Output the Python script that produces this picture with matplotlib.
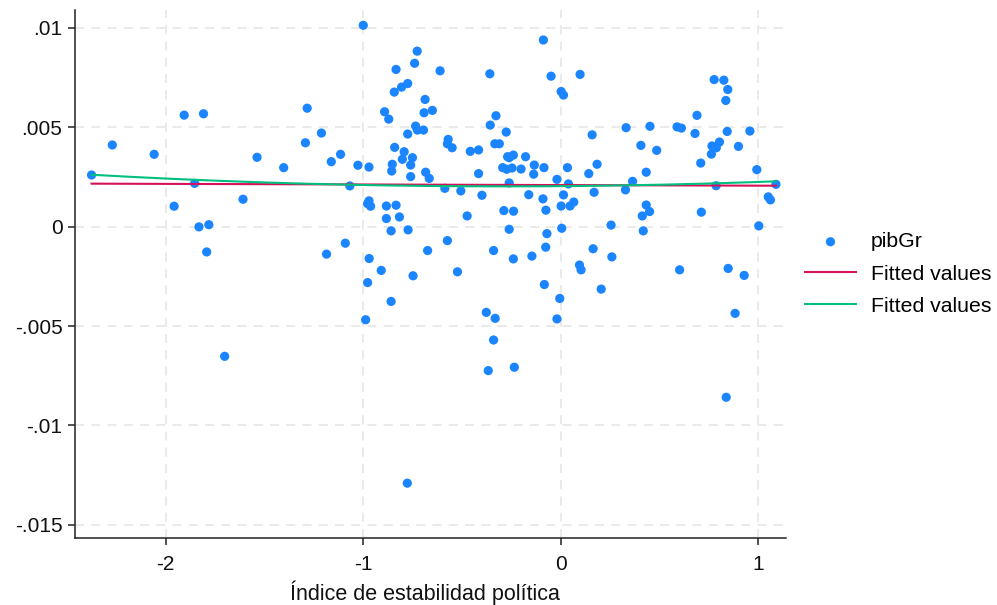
import numpy as np
import matplotlib
matplotlib.use("Agg")
import matplotlib.pyplot as plt

plt.rcParams['font.family'] = ['Liberation Sans', 'DejaVu Sans']

# Political stability index (x) and GDP growth (pibGr)
estab = [
    -2.376, -2.271, -2.059, -1.907, -1.809, -1.854, -1.958, -1.832, -1.782, -1.793,
    -1.538, -1.403, -1.609, -1.284, -1.293, -1.212, -1.186,
    -1.000, -1.162, -1.115, -1.027, -0.971, -1.068, -0.971, -0.963, -0.978, -1.091,
    -0.970, -0.909, -0.978, -0.748, -0.859, -0.988, -1.702, -0.777,
    -0.834, -0.843, -0.806, -0.775, -0.740, -0.727, -0.611, -0.687, -0.692, -0.650,
    -0.892, -0.871, -0.775, -0.735, -0.726, -0.695, -0.841, -0.793, -0.802, -0.751,
    -0.760, -0.853, -0.856, -0.760, -0.684, -0.666, -0.570, -0.574, -0.550, -0.458,
    -0.416, -0.359, -0.328, -0.357, -0.276, -0.334, -0.311, -0.269, -0.240, -0.261,
    -0.178, -0.294, -0.274, -0.247, -0.201, -0.134, -0.137, -0.088, -0.049, -0.085,
    -0.416, -0.261, -0.587, -0.506, -0.399, -0.162, -0.090, -0.075, -0.883, -0.834,
    -0.883, -0.817, -0.859, -0.773, -0.474, -0.288, -0.239, -0.261, -0.070, -0.076,
    -0.574, -0.674, -0.340, -0.146, -0.240, -0.523,
    0.095, 0.103, 0.602, 0.848, 0.929, -0.083, -0.005, 0.205, -0.377, -0.332,
    -0.340, -0.019, -0.367, -0.235, 0.883, 0.838,
    0.098, 0.002, 0.014, 0.159, 0.331, 0.452, 0.406, 0.486, 0.589, 0.611,
    0.690, 0.680, 0.777, 0.826, 0.846, 0.836, 0.843, 0.958, 0.804, 0.766,
    0.788, 0.763, 0.900, 0.709, 0.993, 1.090, 1.051, 1.062, 0.787, 0.712,
    1.003, 0.433, 0.433, 0.450, 0.413, 0.418, 0.364, 0.328, 0.255, 0.259,
    0.164, 0.142, 0.184, 0.169, 0.034, -0.019, 0.039, 0.014, 0.002, 0.047,
    0.066, 0.005,
]
pibGr = [
    0.00260, 0.00411, 0.00364, 0.00561, 0.00568, 0.00218, 0.00103, -0.00001, 0.00010, -0.00127,
    0.00349, 0.00297, 0.00138, 0.00596, 0.00422, 0.00471, -0.00138,
    0.01013, 0.00327, 0.00364, 0.00309, 0.00300, 0.00205, 0.00130, 0.00103, 0.00116, -0.00083,
    -0.00160, -0.00220, -0.00281, -0.00247, -0.00376, -0.00468, -0.00652, -0.01290,
    0.00791, 0.00677, 0.00702, 0.00720, 0.00822, 0.00883, 0.00784, 0.00640, 0.00573, 0.00585,
    0.00578, 0.00541, 0.00466, 0.00506, 0.00486, 0.00486, 0.00399, 0.00377, 0.00339, 0.00347,
    0.00310, 0.00314, 0.00280, 0.00252, 0.00274, 0.00243, 0.00439, 0.00417, 0.00397, 0.00379,
    0.00386, 0.00769, 0.00558, 0.00511, 0.00476, 0.00417, 0.00417, 0.00352, 0.00360, 0.00347,
    0.00352, 0.00297, 0.00289, 0.00295, 0.00290, 0.00310, 0.00264, 0.00939, 0.00757, 0.00297,
    0.00267, 0.00220, 0.00193, 0.00180, 0.00158, 0.00161, 0.00140, 0.00083, 0.00104, 0.00108,
    0.00041, 0.00049, -0.00021, -0.00016, 0.00054, 0.00081, 0.00078, -0.00013, -0.00035, -0.00103,
    -0.00070, -0.00120, -0.00120, -0.00148, -0.00162, -0.00227,
    -0.00193, -0.00217, -0.00217, -0.00210, -0.00245, -0.00291, -0.00361, -0.00314, -0.00431, -0.00461,
    -0.00570, -0.00464, -0.00724, -0.00707, -0.00436, -0.00858,
    0.00766, 0.00680, 0.00662, 0.00462, 0.00498, 0.00505, 0.00409, 0.00384, 0.00502, 0.00496,
    0.00560, 0.00469, 0.00740, 0.00737, 0.00690, 0.00635, 0.00479, 0.00481, 0.00426, 0.00406,
    0.00397, 0.00365, 0.00404, 0.00320, 0.00287, 0.00213, 0.00150, 0.00135, 0.00206, 0.00073,
    0.00004, 0.00274, 0.00109, 0.00076, 0.00054, -0.00021, 0.00228, 0.00185, 0.00008, -0.00152,
    -0.00111, 0.00267, 0.00314, 0.00173, 0.00297, 0.00238, 0.00215, 0.00160, 0.00104, 0.00104,
    0.00124, -0.00008,
]

x_ticks = [-2, -1, 0, 1]
y_ticks = [-0.015, -0.01, -0.005, 0, 0.005, 0.01]
y_tick_labels = ['-.015', '-.01', '-.005', '0', '.005', '.01']

BLUE = '#1a85ff'
RED = '#d41159'
GREEN = '#00bf7f'
FS = 15

x = np.array(estab)
y = np.array(pibGr)
xs = np.sort(x)

lin = np.polyfit(x, y, 1)
quad = np.polyfit(x, y, 2)
xf = np.linspace(xs[0], xs[-1], 200)

fig = plt.figure(figsize=(9.97, 6.05), dpi=100)
ax = fig.add_axes([0.0752, 0.1107, 0.713, 0.8728])

ax.scatter(x, y, s=44, color=BLUE, edgecolors='none', zorder=3, label='pibGr')
ax.plot(xf, np.polyval(lin, xf), color=RED, lw=1.5, zorder=4, label='Fitted values')
ax.plot(xf, np.polyval(quad, xf), color=GREEN, lw=1.5, zorder=4, label='Fitted values')

ax.set_xlim(-2.46, 1.14)
ax.set_ylim(-0.01566, 0.0109)
ax.set_xticks(x_ticks)
ax.set_xticklabels([str(t) for t in x_ticks])
ax.set_yticks(y_ticks)
ax.set_yticklabels(y_tick_labels)

ax.grid(True, color='#e8e8e8', linestyle=(0, (5, 4)), linewidth=1.3, zorder=0)
ax.set_axisbelow(True)
for s in ['top', 'right']:
    ax.spines[s].set_visible(False)
for s in ['left', 'bottom']:
    ax.spines[s].set_color('#222222')
    ax.spines[s].set_linewidth(1.1)
ax.tick_params(axis='both', direction='out', length=5, width=1.1, color='#222222',
               labelsize=FS, labelcolor='#111111')
ax.tick_params(axis='x', pad=7)
ax.tick_params(axis='y', pad=4)

ax.set_xlabel('Índice de estabilidad política', fontsize=FS + 0.5, color='#111111')
ax.xaxis.set_label_coords(0.493, -0.1174)
ax.xaxis.label.set_va('baseline')

ax.legend(loc='center left', bbox_to_anchor=(1.0, 0.5), frameon=False, fontsize=FS + 0.3,
          handlelength=2.4, handletextpad=0.7, borderaxespad=0.5, borderpad=0.4,
          labelspacing=0.62)

fig.savefig('out.png', dpi=100)
